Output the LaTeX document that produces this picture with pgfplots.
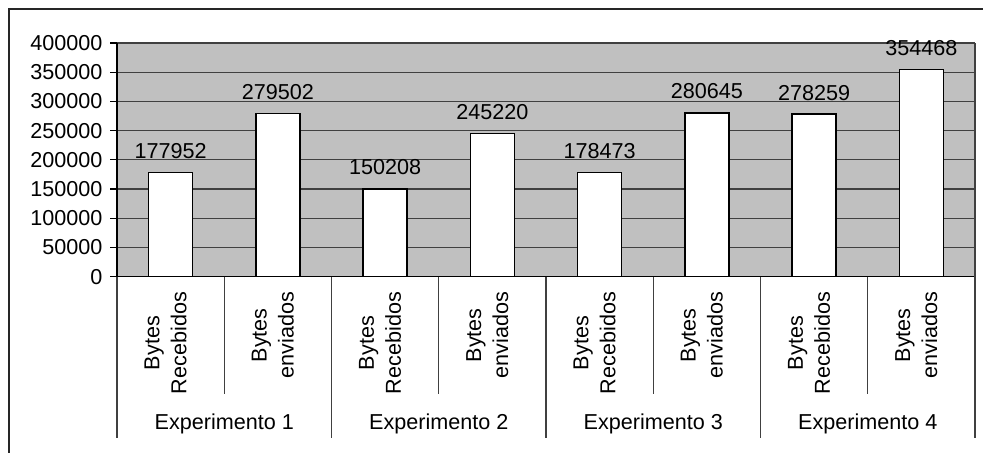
\documentclass[border=0pt]{standalone}
\usepackage{fontspec}
\setmainfont{Liberation Sans}
\usepackage{pgfplots}
\pgfplotsset{compat=1.18}
\definecolor{plotbg}{HTML}{C0C0C0}
\definecolor{gridc}{HTML}{404040}
\newcommand{\fnt}{\fontsize{10.8}{13.5}\selectfont}
\begin{document}
\fnt
\begin{tikzpicture}
\useasboundingbox (0,0) rectangle (491.5pt,226pt);
\draw[line width=0.75pt, black!85] (4.5pt,-2pt) -- (4.5pt,221.5pt) -- (494pt,221.5pt);
\begin{axis}[
  at={(58.5pt,87.7pt)}, anchor=south west,
  scale only axis, width=429pt, height=116.8pt,
  xmin=-0.5, xmax=7.5, ymin=0, ymax=400000,
  ytick={0,50000,...,400000},
  scaled y ticks=false,
  /pgf/number format/fixed,
  /pgf/number format/precision=0,
  /pgf/number format/1000 sep={},
  /pgf/number format/assume math mode=true,
  yticklabel style={font=\fnt, text=black},
  axis background/.style={fill=plotbg},
  ymajorgrids, grid style={gridc, line width=0.6pt},
  axis x line*=bottom, axis y line*=left,
  axis line style={black, line width=0.7pt},
  xtick={0,...,7},
  xticklabels={{Bytes\\Recebidos},{Bytes\\enviados},{Bytes\\Recebidos},{Bytes\\enviados},{Bytes\\Recebidos},{Bytes\\enviados},{Bytes\\Recebidos},{Bytes\\enviados}},
  xticklabel style={xshift=-2.5pt, yshift=-4pt, rotate=90, anchor=east, align=center, inner sep=0pt, font=\fnt},
  xtick style={draw=none},
  ytick style={black, line width=0.6pt},
  tick align=outside, major tick length=3.5pt,
  clip=false,
  ybar, bar width=22pt,
  nodes near coords,
  nodes near coords style={anchor=south, inner sep=0pt, yshift=6.5pt, font=\fnt, text=black},
]
\addplot[fill=white, draw=black, line width=0.8pt] coordinates {
  (0,177952) (1,279502) (2,150208) (3,245220)
  (4,178473) (5,280645) (6,278259) (7,354468)};
\draw[gridc, line width=0.6pt] (axis cs:7.5,0) -- (axis cs:7.5,400000);
\pgfplotsinvokeforeach{-0.5,1.5,3.5,5.5,7.5}{
  \draw[gridc, line width=0.6pt] (axis cs:#1,0) -- ++(0pt,-80.5pt);
}
\pgfplotsinvokeforeach{0.5,2.5,4.5,6.5}{
  \draw[gridc, line width=0.6pt] (axis cs:#1,0) -- ++(0pt,-58.5pt);
}
\node at (axis cs:0.5,0) [yshift=-73.7pt] {Experimento 1};
\node at (axis cs:2.5,0) [yshift=-73.7pt] {Experimento 2};
\node at (axis cs:4.5,0) [yshift=-73.7pt] {Experimento 3};
\node at (axis cs:6.5,0) [yshift=-73.7pt] {Experimento 4};
\end{axis}
\end{tikzpicture}
\end{document}
